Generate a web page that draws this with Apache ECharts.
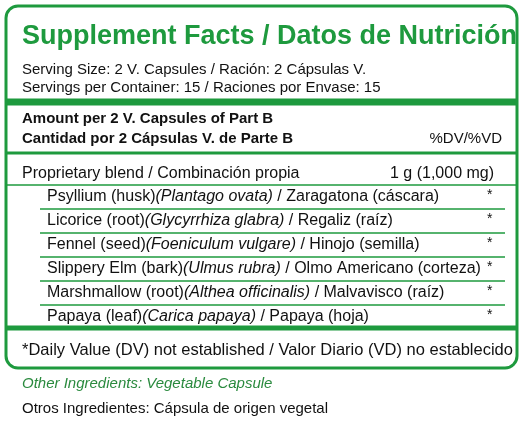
<!DOCTYPE html>
<html><head><meta charset="utf-8">
<script src="https://cdn.jsdelivr.net/npm/echarts@6/dist/echarts.min.js"></script>
<style>html,body{margin:0;padding:0;background:#fff}#c{width:525px;height:428px}</style>
</head><body><div id="c"></div>
<script>
const title = "Supplement Facts / Datos de Nutrición";
const servingLines = ["Serving Size: 2 V. Capsules / Ración: 2 Cápsulas V.", "Servings per Container: 15 / Raciones por Envase: 15"];
const amountLines = ["Amount per 2 V. Capsules of Part B", "Cantidad por 2 Cápsulas V. de Parte B"];
const dvHeader = "%DV/%VD";
const blendName = "Proprietary blend / Combinación propia";
const blendAmount = "1 g (1,000 mg)";
const ingPre = ["Psyllium (husk)", "Licorice (root)", "Fennel (seed)", "Slippery Elm (bark)", "Marshmallow (root)", "Papaya (leaf)"];
const ingLatin = ["Plantago ovata", "Glycyrrhiza glabra", "Foeniculum vulgare", "Ulmus rubra", "Althea officinalis", "Carica papaya"];
const ingPost = [" / Zaragatona (cáscara)", " / Regaliz (raíz)", " / Hinojo (semilla)", " / Olmo Americano (corteza)", " / Malvavisco (raíz)", " / Papaya (hoja)"];
const ingDV = ["*", "*", "*", "*", "*", "*"];
const footnote = "*Daily Value (DV) not established / Valor Diario (VD) no establecido";
const otherLines = ["Other Ingredients: Vegetable Capsule", "Otros Ingredientes: Cápsula de origen vegetal"];

const G = '#1e9a3e', F = '"Liberation Sans Narrow","Arial Narrow","Liberation Sans",sans-serif';
const els = [];
const txt = (x, y, t, o) => els.push({type:'text', x, y, style:Object.assign({text:t, fill:'#111', font:'15px '+F, textVerticalAlign:'middle'}, o||{})});
const line = (x1, y, x2, w) => els.push({type:'rect', shape:{x:x1, y:y - w/2, width:x2 - x1, height:w}, style:{fill:G}});
els.push({type:'rect', shape:{x:6, y:6, width:511, height:362, r:12}, style:{fill:'none', stroke:G, lineWidth:3}});
txt(22, 37, title, {fill:G, font:'bold 27px '+F});
txt(22, 70, servingLines[0]);
txt(22, 88, servingLines[1]);
line(6, 102, 517, 7);
txt(22, 119, amountLines[0], {font:'bold 15px '+F});
txt(22, 139, amountLines[1], {font:'bold 15px '+F});
txt(502, 139, dvHeader, {textAlign:'right'});
line(6, 153, 517, 3);
txt(22, 174, blendName, {font:'16px '+F});
txt(390, 174, blendAmount, {font:'16px '+F});
line(6, 185, 517, 1.5);
ingPre.forEach((p, i) => {
  const y = 197 + i * 24;
  els.push({type:'text', x:47, y, style:{text:'{a|'+p+'}{b|('+ingLatin[i]+')}{a|'+ingPost[i]+'}', textVerticalAlign:'middle',
    rich:{a:{font:'16px '+F, fill:'#111'}, b:{font:'italic 16px '+F, fill:'#111'}}}});
  txt(487, y - 2, ingDV[i], {font:'14px '+F});
  if (i < ingPre.length - 1) line(40, y + 12, 505, 1.5);
});
line(6, 328, 517, 5);
txt(22, 350, footnote, {font:'16.5px '+F});
txt(22, 384, otherLines[0], {fill:'#2a8a3e', font:'italic 15px '+F});
txt(22, 409, otherLines[1]);
const chart = echarts.init(document.getElementById('c'));
chart.setOption({graphic:{elements:els}});
</script></body></html>
